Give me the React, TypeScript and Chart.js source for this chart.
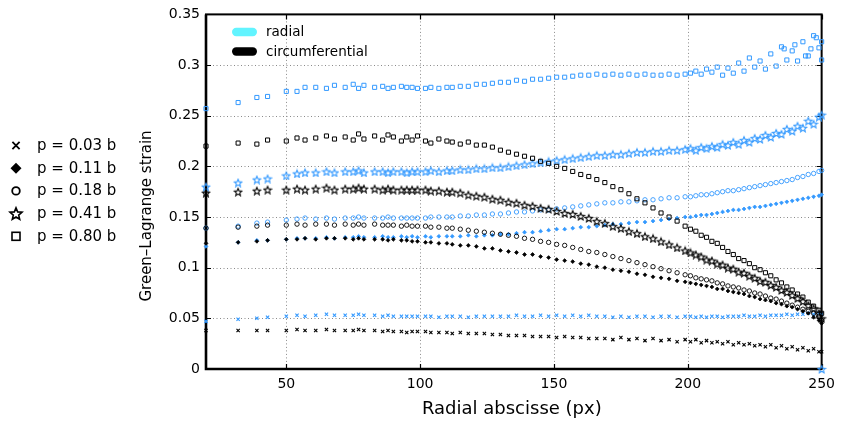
import React, { useEffect, useRef } from 'react';
import { Chart, registerables } from 'chart.js';

Chart.register(...registerables);

// Radial abscisse (px) of the mesh nodes
const X_NODES = [
  20, 32, 39, 43, 50, 54, 57, 61, 65, 68, 72, 75, 77, 79, 83, 86, 88, 90, 93, 95, 97, 99,
  102, 104, 107, 110, 112, 115, 118, 121, 124, 127, 130, 133, 136, 139, 142, 145, 148, 151, 154, 157,
  160, 163, 166, 169, 172, 175, 178, 181, 184, 187, 190, 193, 196, 199,
  201, 203, 205, 207, 209, 211, 213, 215, 217, 219, 221, 223, 225, 227, 229, 231, 233, 235, 237, 239,
  241, 243, 245, 247, 249, 250,
];

// radial strain
const RAD_003 = [
  0.047, 0.049, 0.050, 0.051, 0.052, 0.053, 0.052, 0.053, 0.054, 0.053, 0.053, 0.053, 0.054, 0.053, 0.053, 0.052, 0.053, 0.052, 0.052, 0.052, 0.052, 0.052,
  0.052, 0.052, 0.051, 0.052, 0.052, 0.052, 0.051, 0.052, 0.052, 0.052, 0.052, 0.052, 0.053, 0.052, 0.052, 0.053, 0.052, 0.053, 0.052, 0.053,
  0.052, 0.053, 0.052, 0.052, 0.051, 0.052, 0.051, 0.052, 0.052, 0.051, 0.052, 0.052, 0.051, 0.052,
  0.052, 0.051, 0.052, 0.051, 0.052, 0.052, 0.051, 0.052, 0.052, 0.052, 0.053, 0.052, 0.052, 0.053, 0.052, 0.053, 0.053, 0.053, 0.054, 0.053,
  0.054, 0.054, 0.055, 0.054, 0.055, 0.054,
];
const RAD_011 = [
  0.121, 0.125, 0.127, 0.127, 0.128, 0.129, 0.129, 0.129, 0.130, 0.129, 0.130, 0.130, 0.131, 0.130, 0.130, 0.131, 0.130, 0.130, 0.131, 0.130, 0.131, 0.130,
  0.131, 0.130, 0.131, 0.131, 0.131, 0.131, 0.132, 0.131, 0.132, 0.132, 0.133, 0.133, 0.134, 0.135, 0.135, 0.136, 0.137, 0.138, 0.138, 0.139,
  0.140, 0.140, 0.141, 0.142, 0.143, 0.143, 0.144, 0.145, 0.145, 0.146, 0.147, 0.148, 0.149, 0.150,
  0.150, 0.151, 0.152, 0.152, 0.153, 0.154, 0.155, 0.156, 0.157, 0.157, 0.158, 0.159, 0.160, 0.160, 0.161, 0.162, 0.163, 0.164, 0.165, 0.166,
  0.167, 0.168, 0.169, 0.170, 0.171, 0.172,
];
const RAD_018 = [
  0.139, 0.141, 0.144, 0.145, 0.147, 0.148, 0.149, 0.148, 0.149, 0.148, 0.149, 0.149, 0.150, 0.149, 0.149, 0.149, 0.150, 0.149, 0.149, 0.149, 0.149, 0.149,
  0.149, 0.150, 0.150, 0.150, 0.150, 0.151, 0.151, 0.152, 0.152, 0.153, 0.153, 0.154, 0.155, 0.155, 0.156, 0.157, 0.157, 0.158, 0.159, 0.160,
  0.161, 0.162, 0.163, 0.164, 0.164, 0.165, 0.165, 0.166, 0.167, 0.167, 0.168, 0.169, 0.169, 0.170,
  0.170, 0.171, 0.172, 0.172, 0.173, 0.174, 0.175, 0.176, 0.176, 0.177, 0.178, 0.179, 0.180, 0.181, 0.182, 0.183, 0.184, 0.185, 0.186, 0.187,
  0.189, 0.190, 0.192, 0.193, 0.195, 0.196,
];
const RAD_041 = [
  0.180, 0.184, 0.187, 0.188, 0.191, 0.193, 0.194, 0.194, 0.195, 0.194, 0.195, 0.195, 0.196, 0.194, 0.195, 0.195, 0.194, 0.195, 0.195, 0.194, 0.195, 0.195,
  0.195, 0.196, 0.195, 0.196, 0.196, 0.197, 0.197, 0.198, 0.198, 0.199, 0.199, 0.200, 0.201, 0.202, 0.203, 0.204, 0.205, 0.206, 0.207, 0.208,
  0.209, 0.210, 0.211, 0.211, 0.212, 0.212, 0.213, 0.214, 0.214, 0.215, 0.215, 0.216, 0.216, 0.217,
  0.218, 0.216, 0.219, 0.218, 0.220, 0.219, 0.222, 0.221, 0.224, 0.222, 0.226, 0.224, 0.228, 0.227, 0.231, 0.229, 0.233, 0.232, 0.237, 0.235,
  0.240, 0.238, 0.245, 0.242, 0.249, 0.251,
];
const RAD_080 = [
  0.257, 0.263, 0.268, 0.269, 0.274, 0.274, 0.278, 0.278, 0.277, 0.280, 0.278, 0.281, 0.277, 0.280, 0.278, 0.279, 0.277, 0.278, 0.279, 0.278, 0.278, 0.277,
  0.277, 0.278, 0.277, 0.278, 0.278, 0.279, 0.279, 0.281, 0.281, 0.282, 0.283, 0.283, 0.285, 0.284, 0.286, 0.286, 0.287, 0.288, 0.288, 0.289,
  0.290, 0.290, 0.291, 0.290, 0.291, 0.290, 0.291, 0.290, 0.291, 0.290, 0.290, 0.291, 0.290, 0.291,
  0.292, 0.294, 0.291, 0.296, 0.293, 0.298, 0.290, 0.297, 0.292, 0.302, 0.294, 0.307, 0.298, 0.304, 0.296, 0.311, 0.299, 0.318, 0.305, 0.314,
  0.304, 0.323, 0.309, 0.329, 0.317, 0.305,
];
const RAD_080_EXTRA_X = [236, 240, 244, 246, 248, 250];
const RAD_080_EXTRA_Y = [0.316, 0.320, 0.309, 0.316, 0.327, 0.323];
const RAD_041_EXTRA_X = [250];
const RAD_041_EXTRA_Y = [0];

// circumferential strain
const CIRC_003 = [
  0.038, 0.038, 0.038, 0.038, 0.038, 0.039, 0.038, 0.038, 0.039, 0.038, 0.038, 0.038, 0.039, 0.038, 0.038, 0.037, 0.038, 0.037, 0.037, 0.036, 0.037, 0.037,
  0.037, 0.036, 0.036, 0.036, 0.035, 0.036, 0.035, 0.035, 0.035, 0.034, 0.034, 0.033, 0.033, 0.033, 0.032, 0.032, 0.032, 0.031, 0.032, 0.031,
  0.031, 0.030, 0.030, 0.030, 0.029, 0.031, 0.029, 0.030, 0.028, 0.030, 0.028, 0.029, 0.027, 0.029,
  0.027, 0.029, 0.026, 0.028, 0.026, 0.027, 0.025, 0.027, 0.024, 0.026, 0.024, 0.025, 0.023, 0.024, 0.022, 0.024, 0.021, 0.023, 0.020, 0.022,
  0.019, 0.021, 0.018, 0.020, 0.017, 0.017,
];
const CIRC_011 = [
  0.124, 0.125, 0.126, 0.127, 0.128, 0.128, 0.129, 0.128, 0.129, 0.129, 0.129, 0.128, 0.129, 0.128, 0.128, 0.128, 0.127, 0.128, 0.127, 0.127, 0.126, 0.126,
  0.125, 0.125, 0.124, 0.124, 0.123, 0.122, 0.122, 0.121, 0.119, 0.119, 0.117, 0.116, 0.115, 0.113, 0.113, 0.111, 0.110, 0.108, 0.107, 0.106,
  0.104, 0.103, 0.101, 0.100, 0.098, 0.097, 0.096, 0.094, 0.093, 0.091, 0.090, 0.089, 0.087, 0.086,
  0.085, 0.084, 0.083, 0.082, 0.081, 0.079, 0.079, 0.077, 0.076, 0.075, 0.074, 0.072, 0.071, 0.069, 0.068, 0.067, 0.065, 0.064, 0.062, 0.061,
  0.059, 0.057, 0.055, 0.051, 0.048, 0.045,
];
const CIRC_018 = [
  0.139, 0.140, 0.141, 0.142, 0.142, 0.143, 0.142, 0.143, 0.143, 0.142, 0.143, 0.142, 0.143, 0.142, 0.143, 0.142, 0.142, 0.142, 0.141, 0.142, 0.141, 0.141,
  0.141, 0.140, 0.140, 0.139, 0.139, 0.138, 0.137, 0.136, 0.135, 0.134, 0.133, 0.132, 0.131, 0.129, 0.128, 0.126, 0.125, 0.123, 0.122, 0.120,
  0.118, 0.116, 0.115, 0.113, 0.111, 0.109, 0.107, 0.105, 0.103, 0.101, 0.099, 0.097, 0.095, 0.093,
  0.092, 0.090, 0.089, 0.088, 0.087, 0.085, 0.084, 0.082, 0.081, 0.080, 0.078, 0.077, 0.075, 0.074, 0.072, 0.070, 0.069, 0.067, 0.065, 0.063,
  0.061, 0.059, 0.057, 0.055, 0.052, 0.048,
];
const CIRC_041 = [
  0.174, 0.175, 0.176, 0.177, 0.177, 0.178, 0.177, 0.178, 0.179, 0.177, 0.178, 0.178, 0.179, 0.178, 0.178, 0.177, 0.178, 0.177, 0.177, 0.177, 0.177, 0.177,
  0.177, 0.176, 0.176, 0.175, 0.175, 0.174, 0.172, 0.171, 0.170, 0.168, 0.167, 0.165, 0.164, 0.162, 0.161, 0.159, 0.158, 0.156, 0.154, 0.153,
  0.151, 0.149, 0.146, 0.144, 0.141, 0.139, 0.136, 0.134, 0.131, 0.129, 0.126, 0.123, 0.120, 0.117,
  0.115, 0.113, 0.111, 0.108, 0.107, 0.104, 0.103, 0.100, 0.099, 0.096, 0.095, 0.092, 0.090, 0.087, 0.086, 0.083, 0.081, 0.078, 0.076, 0.073,
  0.070, 0.067, 0.063, 0.060, 0.055, 0.050,
];
const CIRC_080 = [
  0.220, 0.223, 0.222, 0.226, 0.225, 0.228, 0.226, 0.228, 0.230, 0.227, 0.229, 0.226, 0.232, 0.227, 0.230, 0.226, 0.231, 0.229, 0.225, 0.229, 0.226, 0.230,
  0.225, 0.223, 0.227, 0.225, 0.224, 0.222, 0.224, 0.221, 0.221, 0.219, 0.216, 0.214, 0.212, 0.210, 0.208, 0.205, 0.203, 0.200, 0.198, 0.195,
  0.192, 0.190, 0.187, 0.184, 0.180, 0.177, 0.173, 0.168, 0.164, 0.159, 0.154, 0.150, 0.146, 0.141,
  0.138, 0.136, 0.132, 0.130, 0.126, 0.124, 0.120, 0.116, 0.113, 0.109, 0.107, 0.104, 0.100, 0.098, 0.095, 0.092, 0.088, 0.085, 0.081, 0.078,
  0.074, 0.071, 0.066, 0.062, 0.058, 0.055,
];

const PRESSURE_LABELS = ['p = 0.03 b', 'p = 0.11 b', 'p = 0.18 b', 'p = 0.41 b', 'p = 0.80 b'];
const COMPONENT_LABELS = ['radial', 'circumferential'];
const X_TICKS = [50, 100, 150, 200, 250];
const Y_TICKS = [0, 0.05, 0.1, 0.15, 0.2, 0.25, 0.3, 0.35];
const Y_TICK_LABELS = ['0', '0.05', '0.1', '0.15', '0.2', '0.25', '0.3', '0.35'];
const X_TITLE = 'Radial abscisse (px)';
const Y_TITLE = 'Green\u2013Lagrange strain';

const BLUE = '#3399ff';
const BLACK = '#000000';
const CYAN = '#62f4ff';
const FONT = "'DejaVu Sans', sans-serif";

function pts(xs: number[], ys: number[]) {
  return xs.map((x, i) => ({ x, y: ys[i] }));
}

function starPath(ctx: CanvasRenderingContext2D, cx: number, cy: number, R: number) {
  const r = R * 0.45;
  ctx.beginPath();
  for (let i = 0; i < 10; i++) {
    const a = -Math.PI / 2 + (i * Math.PI) / 5;
    const rr = i % 2 ? r : R;
    const px = cx + rr * Math.cos(a);
    const py = cy + rr * Math.sin(a);
    if (i === 0) ctx.moveTo(px, py);
    else ctx.lineTo(px, py);
  }
  ctx.closePath();
}

function makeStar(color: string, size: number, lw: number) {
  const c = document.createElement('canvas');
  c.width = size;
  c.height = size;
  const g = c.getContext('2d') as CanvasRenderingContext2D;
  starPath(g, size / 2, size / 2 + 0.6, size / 2 - 1);
  g.strokeStyle = color;
  g.lineWidth = lw;
  g.stroke();
  return c;
}

const decorPlugin = {
  id: 'decor',
  beforeDatasetsDraw(chart: any) {
    const { ctx, chartArea: a, scales } = chart;
    const xs = scales.x;
    const ys = scales.y;
    ctx.save();
    // dotted grid
    ctx.strokeStyle = '#8a8a8a';
    ctx.lineWidth = 1;
    ctx.setLineDash([1, 2.5]);
    X_TICKS.forEach((v) => {
      if (v >= 250) return;
      const px = Math.round(xs.getPixelForValue(v)) + 0.5;
      ctx.beginPath();
      ctx.moveTo(px, a.top);
      ctx.lineTo(px, a.bottom);
      ctx.stroke();
    });
    Y_TICKS.forEach((v) => {
      if (v <= 0 || v >= 0.35) return;
      const py = Math.round(ys.getPixelForValue(v)) + 0.5;
      ctx.beginPath();
      ctx.moveTo(a.left, py);
      ctx.lineTo(a.right, py);
      ctx.stroke();
    });
    ctx.setLineDash([]);
    // inward ticks
    ctx.strokeStyle = '#000';
    ctx.lineWidth = 1.2;
    const tl = 5;
    X_TICKS.forEach((v) => {
      const px = Math.round(xs.getPixelForValue(v)) + 0.5;
      ctx.beginPath();
      ctx.moveTo(px, a.bottom);
      ctx.lineTo(px, a.bottom - tl);
      ctx.moveTo(px, a.top);
      ctx.lineTo(px, a.top + tl);
      ctx.stroke();
    });
    Y_TICKS.forEach((v) => {
      const py = Math.round(ys.getPixelForValue(v)) + 0.5;
      ctx.beginPath();
      ctx.moveTo(a.left, py);
      ctx.lineTo(a.left + tl, py);
      ctx.moveTo(a.right, py);
      ctx.lineTo(a.right - tl, py);
      ctx.stroke();
    });
    // frame (left and bottom slightly heavier)
    ctx.lineWidth = 2;
    ctx.strokeRect(a.left, a.top, a.right - a.left, a.bottom - a.top);
    ctx.lineWidth = 2.6;
    ctx.beginPath();
    ctx.moveTo(a.left, a.top);
    ctx.lineTo(a.left, a.bottom);
    ctx.lineTo(a.right, a.bottom);
    ctx.stroke();
    ctx.restore();
  },
  afterDraw(chart: any) {
    const { ctx, chartArea: a } = chart;
    ctx.save();
    ctx.fillStyle = '#000';
    // axis titles
    ctx.font = `18px ${FONT}`;
    ctx.textAlign = 'center';
    ctx.textBaseline = 'middle';
    ctx.fillText(X_TITLE, (a.left + a.right) / 2 - 2, 409);
    ctx.save();
    ctx.translate(147, 216);
    ctx.rotate(-Math.PI / 2);
    ctx.font = `15px ${FONT}`;
    ctx.fillText(Y_TITLE, 0, 0);
    ctx.restore();

    // inner legend (component colours)
    const legColors = [CYAN, BLACK];
    ctx.textAlign = 'left';
    ctx.font = `13.5px ${FONT}`;
    COMPONENT_LABELS.forEach((lab, i) => {
      const cy = 32 + i * 19.5;
      ctx.fillStyle = legColors[i];
      ctx.beginPath();
      (ctx as any).roundRect(232, cy - 4.2, 25, 8.4, 4.2);
      ctx.fill();
      ctx.fillStyle = '#000';
      ctx.fillText(lab, 266, cy + 0.5);
    });

    // left legend (marker = pressure)
    ctx.font = `15px ${FONT}`;
    const mx = 16;
    PRESSURE_LABELS.forEach((lab, i) => {
      const cy = 145.5 + i * 22.7;
      ctx.strokeStyle = '#000';
      ctx.fillStyle = '#000';
      ctx.lineWidth = 1.8;
      ctx.beginPath();
      if (i === 0) {
        const h = 3.6;
        ctx.moveTo(mx - h, cy - h);
        ctx.lineTo(mx + h, cy + h);
        ctx.moveTo(mx + h, cy - h);
        ctx.lineTo(mx - h, cy + h);
        ctx.stroke();
      } else if (i === 1) {
        const h = 5.5;
        ctx.moveTo(mx, cy - h);
        ctx.lineTo(mx + h, cy);
        ctx.lineTo(mx, cy + h);
        ctx.lineTo(mx - h, cy);
        ctx.closePath();
        ctx.fill();
      } else if (i === 2) {
        ctx.arc(mx, cy, 3.8, 0, Math.PI * 2);
        ctx.stroke();
      } else if (i === 3) {
        ctx.lineWidth = 1.6;
        starPath(ctx, mx, cy + 0.6, 6.3);
        ctx.stroke();
      } else {
        ctx.lineWidth = 1.6;
        ctx.strokeRect(mx - 4, cy - 4, 8, 8);
      }
      ctx.fillText(lab, 37, cy + 0.5);
    });
    ctx.restore();
  },
};

export default function App() {
  const ref = useRef<HTMLCanvasElement | null>(null);

  useEffect(() => {
    if (!ref.current) return;
    const starBlack = makeStar(BLACK, 10, 1.1);
    const starBlue = makeStar(BLUE, 10, 1.1);

    const styleFor = (kind: number, color: string) => {
      if (kind === 0) return { pointStyle: 'crossRot', pointRadius: 2.3, pointBorderWidth: 1.1, pointBackgroundColor: color };
      if (kind === 1) return { pointStyle: 'rectRot', pointRadius: 1.9, pointBorderWidth: 0.8, pointBackgroundColor: color };
      if (kind === 2) return { pointStyle: 'circle', pointRadius: 2.2, pointBorderWidth: 0.9, pointBackgroundColor: 'rgba(0,0,0,0)' };
      if (kind === 3) return { pointStyle: color === BLUE ? starBlue : starBlack, pointRadius: 4.5, pointBorderWidth: 1 };
      return { pointStyle: 'rect', pointRadius: 2.9, pointBorderWidth: 1, pointBackgroundColor: 'rgba(0,0,0,0)' };
    };

    const circ = [CIRC_003, CIRC_011, CIRC_018, CIRC_041, CIRC_080];
    const rad = [RAD_003, RAD_011, RAD_018, RAD_041, RAD_080];

    const datasets: any[] = [];
    // circumferential first so they are drawn on top
    [4, 3, 2, 1, 0].forEach((k) => {
      datasets.push({
        label: `${COMPONENT_LABELS[1]} ${PRESSURE_LABELS[k]}`,
        data: pts(X_NODES, circ[k]),
        borderColor: BLACK,
        showLine: false,
        clip: false,
        ...styleFor(k, BLACK),
      });
    });
    [4, 3, 2, 1, 0].forEach((k) => {
      let data = pts(X_NODES, rad[k]);
      if (k === 4) data = data.concat(pts(RAD_080_EXTRA_X, RAD_080_EXTRA_Y));
      if (k === 3) data = data.concat(pts(RAD_041_EXTRA_X, RAD_041_EXTRA_Y));
      datasets.push({
        label: `${COMPONENT_LABELS[0]} ${PRESSURE_LABELS[k]}`,
        data,
        borderColor: BLUE,
        showLine: false,
        clip: false,
        ...styleFor(k, BLUE),
      });
    });

    const chart = new Chart(ref.current, {
      type: 'scatter',
      data: { datasets },
      plugins: [decorPlugin],
      options: {
        animation: false,
        responsive: false,
        devicePixelRatio: 1,
        layout: { padding: { left: 138, right: 15, top: 14, bottom: 0 } },
        plugins: { legend: { display: false }, tooltip: { enabled: false } },
        elements: { point: { hoverRadius: 0 } },
        scales: {
          x: {
            type: 'linear',
            min: 20,
            max: 250,
            grid: { display: false, drawTicks: false },
            border: { display: false },
            afterBuildTicks: (s: any) => {
              s.ticks = X_TICKS.map((v) => ({ value: v }));
            },
            afterFit: (s: any) => {
              s.height = 52;
            },
            ticks: {
              color: '#000',
              padding: 7,
              maxRotation: 0,
              autoSkip: false,
              font: { family: FONT, size: 14 },
              callback: (v: any) => String(v),
            },
          },
          y: {
            type: 'linear',
            min: 0,
            max: 0.35,
            grid: { display: false, drawTicks: false },
            border: { display: false },
            afterBuildTicks: (s: any) => {
              s.ticks = Y_TICKS.map((v) => ({ value: v }));
            },
            afterFit: (s: any) => {
              s.width = 68;
            },
            ticks: {
              color: '#000',
              padding: 6,
              autoSkip: false,
              font: { family: FONT, size: 14 },
              callback: (_v: any, i: number) => Y_TICK_LABELS[i],
            },
          },
        },
      } as any,
    });
    return () => chart.destroy();
  }, []);

  return (
    <div style={{ position: 'fixed', left: 0, top: 0, width: 842, height: 421, background: '#fff' }}>
      <canvas ref={ref} width={842} height={421} style={{ width: 842, height: 421, display: 'block' }} />
    </div>
  );
}
